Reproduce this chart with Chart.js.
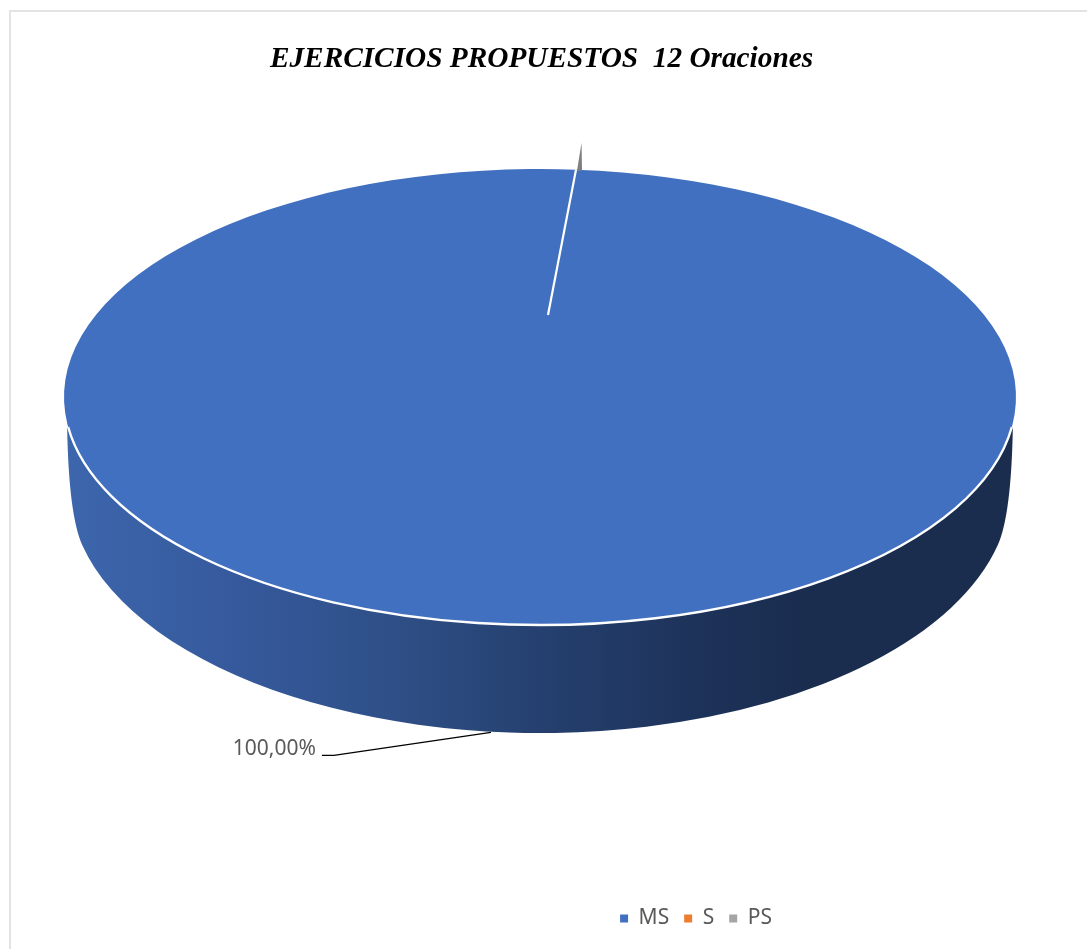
<!DOCTYPE html>
<html>
<head>
<meta charset="utf-8">
<title>EJERCICIOS PROPUESTOS 12 Oraciones</title>
<script src="https://cdn.jsdelivr.net/npm/chart.js@4/dist/chart.umd.min.js"></script>
<style>
  html, body { margin: 0; padding: 0; background: #fff; overflow: hidden; }
  #wrap { position: relative; width: 1087px; height: 949px; }
  #frame { position: absolute; left: 9px; top: 10px; right: 0; bottom: 0; border-left: 2px solid #e3e3e3; border-top: 2px solid #e3e3e3; }
  canvas { position: absolute; left: 0; top: 0; }
</style>
</head>
<body>
<div id="wrap">
  <div id="frame"></div>
  <canvas id="pieChart" width="1087" height="949"></canvas>
</div>
<script>
const titleText = "EJERCICIOS PROPUESTOS  12 Oraciones";
const categories = ["MS", "S", "PS"];
const seriesValues = [100, 0, 0];
const seriesColors = ["#4270C0", "#ED7D31", "#A5A5A5"];

// --- geometry of the tilted disc ---
const topDisc = { x: 540, y: 397, rx: 476, ry: 228 };
const lowDisc = { x: 540, y: 490, rx: 470, ry: 243 };
const apex = { x: 548, y: 315 };
const wallJoinY = 427;
const wallTurnY = 545;
const wallBend = { dx: 471.3, y: 515 };

function onDisc(d, angle) {
    return { x: d.x + d.rx * Math.cos(angle), y: d.y + d.ry * Math.sin(angle) };
}

function percentLabel(v) {
    const total = seriesValues.reduce((a, b) => a + b, 0);
    return (v / total * 100).toFixed(2).replace(".", ",") + "%";
}

// side wall of the pie, dark to the right
function drawWall(ctx) {
    const g = ctx.createLinearGradient(topDisc.x - topDisc.rx, 0, topDisc.x + topDisc.rx, 0);
    g.addColorStop(0, "#3D66AD");
    g.addColorStop(0.2, "#35589A");
    g.addColorStop(0.35, "#2E4F86");
    g.addColorStop(0.5, "#25406F");
    g.addColorStop(0.67, "#1D3259");
    g.addColorStop(0.78, "#1A2D4F");
    g.addColorStop(1, "#1A2D4F");

    const t = Math.asin((wallJoinY - topDisc.y) / topDisc.ry);
    const turn = Math.asin((wallTurnY - lowDisc.y) / lowDisc.ry);
    const left = onDisc(topDisc, Math.PI - t);
    const right = onDisc(topDisc, t);
    const lowLeft = onDisc(lowDisc, Math.PI - turn);

    ctx.beginPath();
    ctx.moveTo(left.x - 1, left.y);
    ctx.quadraticCurveTo(lowDisc.x - wallBend.dx, wallBend.y, lowLeft.x, lowLeft.y);
    ctx.ellipse(lowDisc.x, lowDisc.y, lowDisc.rx, lowDisc.ry, 0, Math.PI - turn, turn, true);
    ctx.quadraticCurveTo(lowDisc.x + wallBend.dx, wallBend.y, right.x + 1, right.y);
    ctx.closePath();
    ctx.fillStyle = g;
    ctx.fill();
}

const pie3d = {
    id: "pie3d",
    afterLayout(chart) {
        // legend sits right of centre in the original
        chart.legend.left += 154.5;
        chart.legend.right += 154.5;
    },
    beforeDatasetsDraw(chart) {
        const ctx = chart.ctx;
        const arc = chart.getDatasetMeta(0).data[0];
        drawWall(ctx);
        // squash the library's circle into the disc
        ctx.save();
        ctx.translate(topDisc.x, topDisc.y);
        ctx.scale(topDisc.rx / arc.outerRadius, topDisc.ry / arc.outerRadius);
        ctx.translate(-arc.x, -arc.y);
    },
    afterDatasetsDraw(chart) {
        const ctx = chart.ctx;
        ctx.restore();

        const data = chart.getDatasetMeta(0).data;
        const ms = data[0];
        const ps = data[2];

        // white rim on the front edge
        const t = Math.asin((wallJoinY - topDisc.y) / topDisc.ry);
        ctx.beginPath();
        ctx.ellipse(topDisc.x, topDisc.y, topDisc.rx, topDisc.ry, 0, t, Math.PI - t);
        ctx.strokeStyle = "#fff";
        ctx.lineWidth = 2.4;
        ctx.stroke();

        // white slice edge
        const edge = onDisc(topDisc, ms.startAngle);
        ctx.beginPath();
        ctx.moveTo(apex.x, apex.y);
        ctx.lineTo(edge.x, edge.y);
        ctx.lineWidth = 2.2;
        ctx.stroke();

        // the empty PS slice shows as a thin sliver
        const base = onDisc(topDisc, ps.startAngle);
        ctx.beginPath();
        ctx.moveTo(base.x + 1, base.y + 1);
        ctx.lineTo(base.x + 6, base.y + 1);
        ctx.lineTo(base.x + 5.5, base.y - 27);
        ctx.closePath();
        ctx.fillStyle = "#7F7F7F";
        ctx.fill();

        // leader line and label of MS
        const mid = onDisc(lowDisc, (ms.startAngle + ms.endAngle) / 2);
        const tip = { x: mid.x - 13.5, y: mid.y };
        ctx.beginPath();
        ctx.moveTo(tip.x, tip.y);
        ctx.lineTo(tip.x - 157, tip.y + 23);
        ctx.lineTo(tip.x - 169, tip.y + 23);
        ctx.strokeStyle = "#000";
        ctx.lineWidth = 1.2;
        ctx.stroke();

        ctx.font = '21px "Noto Sans"';
        ctx.fillStyle = "#595959";
        ctx.textAlign = "right";
        ctx.textBaseline = "middle";
        ctx.fillText(percentLabel(seriesValues[0]), tip.x - 175, tip.y + 17);
    }
};

new Chart(document.getElementById("pieChart").getContext("2d"), {
    type: "pie",
    plugins: [pie3d],
    data: {
        labels: categories,
        datasets: [{
            data: seriesValues,
            backgroundColor: seriesColors,
            borderWidth: 0,
            clip: false
        }]
    },
    options: {
        responsive: false,
        animation: false,
        events: [],
        rotation: 4.34,
        layout: { padding: { right: 4, bottom: 10 } },
        plugins: {
            tooltip: { enabled: false },
            title: {
                display: true,
                text: titleText,
                color: "#000",
                font: { family: '"Liberation Serif"', size: 29.3, weight: "bold", style: "italic" },
                padding: { top: 41.5, bottom: 20 }
            },
            legend: {
                position: "bottom",
                labels: {
                    usePointStyle: true,
                    pointStyle: "rect",
                    boxWidth: 8,
                    boxHeight: 8,
                    padding: 15,
                    color: "#595959",
                    font: { family: '"Noto Sans"', size: 21 }
                }
            }
        }
    }
});
</script>
</body>
</html>
